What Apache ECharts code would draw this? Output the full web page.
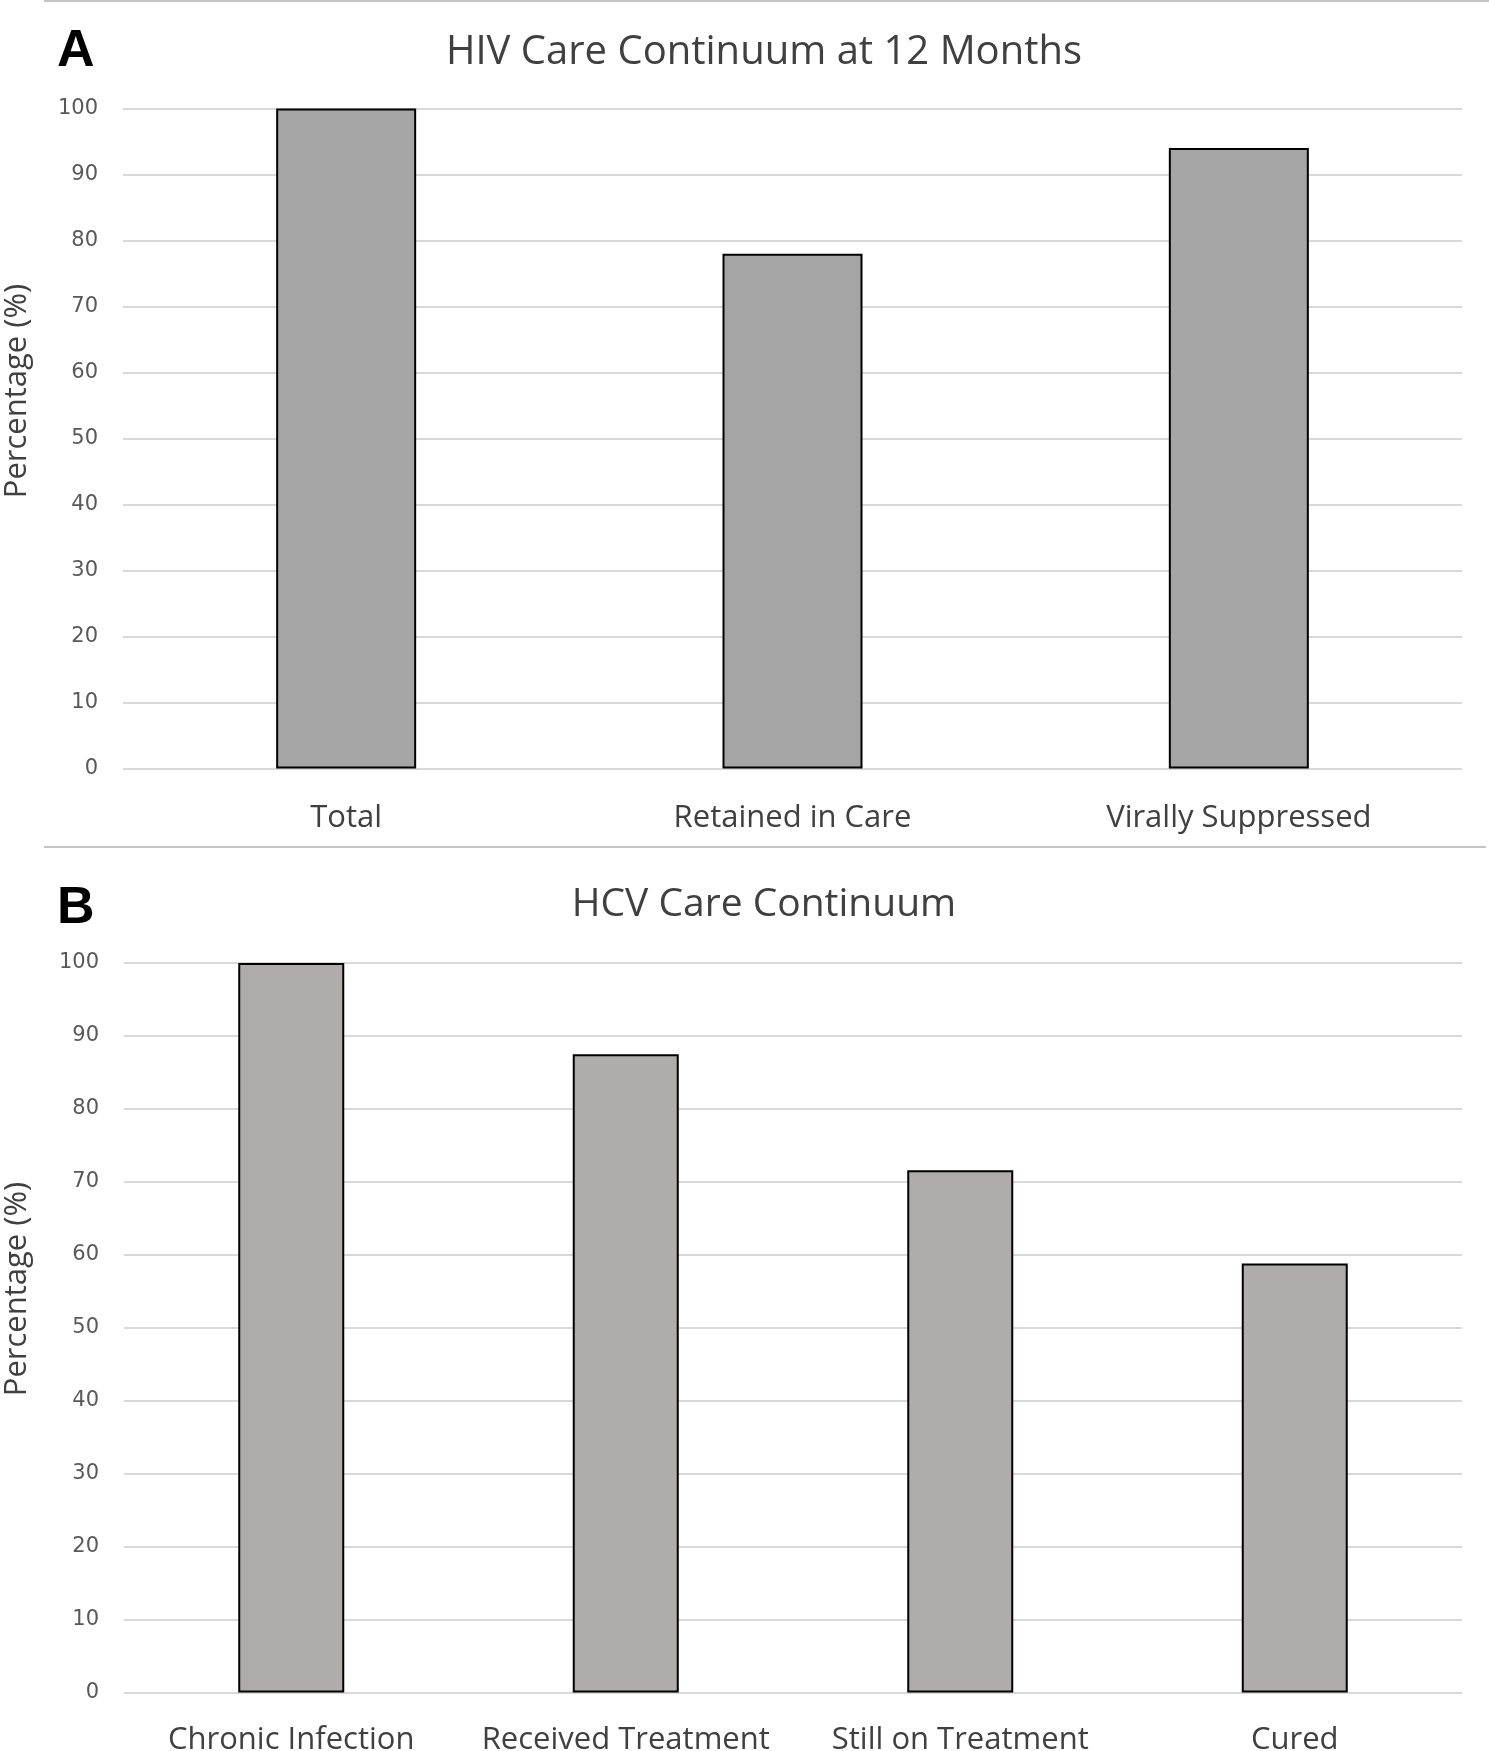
<!DOCTYPE html>
<html>
<head>
<meta charset="utf-8">
<script src="https://cdn.jsdelivr.net/npm/echarts@6/dist/echarts.min.js"></script>
<style>
html,body{margin:0;padding:0;background:#fff;}
#chart{width:1489px;height:1751px;}
</style>
</head>
<body>
<div id="chart"></div>
<script>
// Panel A data
const hivCategories = ['Total', 'Retained in Care', 'Virally Suppressed'];
const hivValues = [100, 78, 94];
// Panel B data
const hcvCategories = ['Chronic Infection', 'Received Treatment', 'Still on Treatment', 'Cured'];
const hcvValues = [100, 87.5, 71.6, 58.8];
// Axis ticks
const yMin = 0, yMax = 100, yStep = 10;
const titleA = 'HIV Care Continuum at 12 Months';
const titleB = 'HCV Care Continuum';
const yName = 'Percentage (%)';

const chart = echarts.init(document.getElementById('chart'), null, {renderer: 'canvas'});

const yAxisCommon = {
  type: 'value', min: yMin, max: yMax, interval: yStep,
  axisLine: {show: false}, axisTick: {show: false},
  axisLabel: {color: '#595959', fontFamily: 'DejaVu Sans', fontSize: 21, margin: 25, padding: [4, 0, 0, 0]},
  splitLine: {lineStyle: {color: '#cccccc', width: 1.5}}
};

function txt(text, x, y, font, fill, align, rot) {
  return {
    type: 'text', x: x, y: y, rotation: rot || 0, silent: true,
    style: {text: text, font: font, fill: fill, align: align, verticalAlign: 'middle',
            textAlign: align, textVerticalAlign: 'middle'}
  };
}

chart.setOption({
  animation: false,
  backgroundColor: '#ffffff',
  grid: [
    {left: 123, right: 27, top: 108.5, height: 660, containLabel: false, outerBoundsMode: 'none'},
    {left: 124, right: 27, top: 963, height: 729.5, containLabel: false, outerBoundsMode: 'none'}
  ],
  xAxis: [
    {type: 'category', gridIndex: 0, data: hivCategories,
     axisLine: {show: false}, axisTick: {show: false},
     axisLabel: {color: '#404040', fontFamily: 'Open Sans', fontSize: 31, margin: 34, interval: 0}},
    {type: 'category', gridIndex: 1, data: hcvCategories,
     axisLine: {show: false}, axisTick: {show: false},
     axisLabel: {color: '#404040', fontFamily: 'Open Sans', fontSize: 31, margin: 32, interval: 0}}
  ],
  yAxis: [
    Object.assign({gridIndex: 0}, yAxisCommon),
    Object.assign({gridIndex: 1}, yAxisCommon)
  ],
  series: [
    {type: 'bar', xAxisIndex: 0, yAxisIndex: 0, data: hivValues, barWidth: 140,
     itemStyle: {color: '#a5a5a5', borderColor: '#000000', borderWidth: 2}},
    {type: 'bar', xAxisIndex: 1, yAxisIndex: 1, data: hcvValues, barWidth: 106,
     itemStyle: {color: '#afacab', borderColor: '#000000', borderWidth: 2}}
  ],
  graphic: [
    {type: 'line', silent: true, shape: {x1: 44, y1: 1, x2: 1489, y2: 1}, style: {stroke: '#c4c4c4', lineWidth: 2}},
    {type: 'line', silent: true, shape: {x1: 44, y1: 847, x2: 1486, y2: 847}, style: {stroke: '#c4c4c4', lineWidth: 2}},
    txt('A', 57, 52, 'bold 52px "Liberation Sans"', '#000000', 'left'),
    txt('B', 57, 909, 'bold 52px "Liberation Sans"', '#000000', 'left'),
    txt(titleA, 764, 53, '40px "Open Sans"', '#404040', 'center'),
    txt(titleB, 764, 905, '39px "Open Sans"', '#404040', 'center'),
    txt(yName, 17, 391, '31px "Open Sans"', '#404040', 'center', Math.PI / 2),
    txt(yName, 17, 1289, '31px "Open Sans"', '#404040', 'center', Math.PI / 2)
  ]
});
</script>
</body>
</html>
